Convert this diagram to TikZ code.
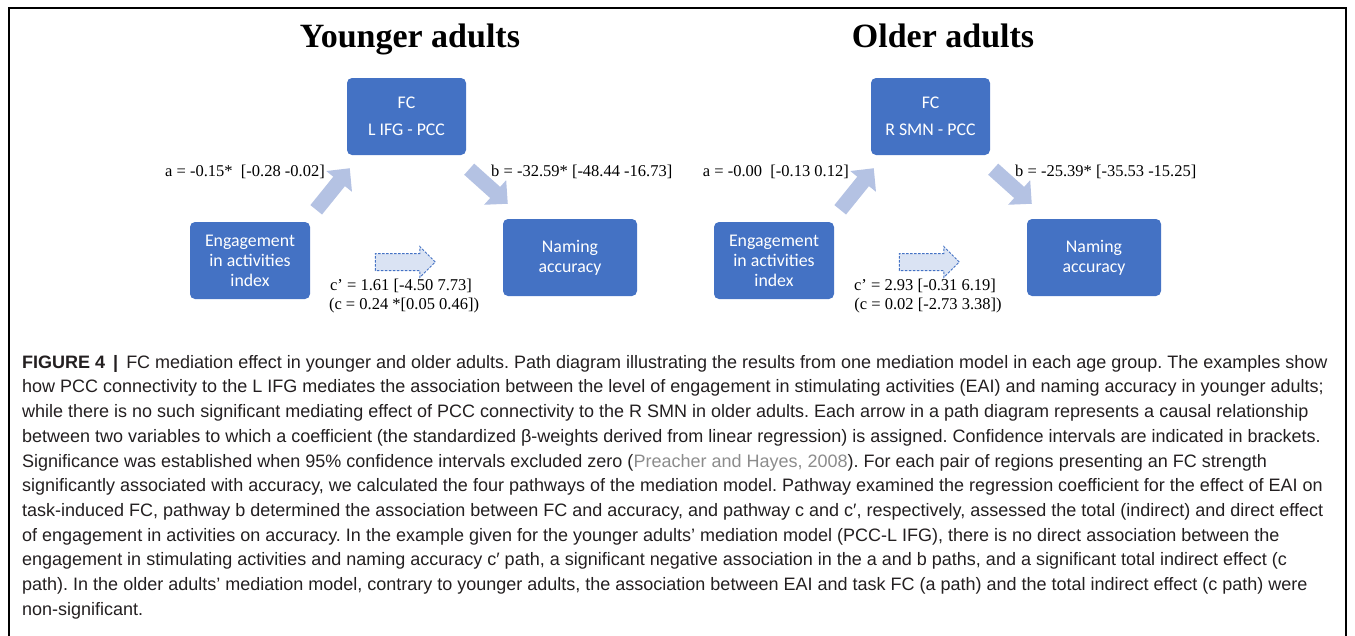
\documentclass[tikz,border=0pt]{standalone}
\usepackage{fontspec}
\usetikzlibrary{arrows.meta, shapes.arrows}
\newfontfamily\labFont{Liberation Serif}
\newfontfamily\boxFont{Carlito}
\newfontfamily\capFont{Liberation Sans}
\definecolor{boxBlue}{HTML}{4472C4}
\definecolor{pathBlue}{HTML}{B4C2E3}
\definecolor{dashFill}{HTML}{DAE3F3}
\definecolor{citeGray}{HTML}{8C8C8C}
\definecolor{capInk}{HTML}{231F20}

\begin{document}
\begin{tikzpicture}[x=1pt, y=-1pt,
    box/.style={fill=boxBlue, rounded corners=5pt, text=white, align=center,
        font=\boxFont\fontsize{17.8}{20}\selectfont, inner sep=0pt},
    blockArrow/.style={pathBlue, line width=15pt, -{Triangle[width=32pt, length=17pt]}},
    coef/.style={font=\labFont\fontsize{16.5}{18}\selectfont, inner sep=0pt}]
        \useasboundingbox (0,0) rectangle (1355,635);
        \draw[line width=1.4pt] (9,650) -- (9,8) -- (1346,8) -- (1346,650);

        \pgfmathsetmacro{\panelShift}{524}
        \foreach \p/\tx/\ttl/\reg/\alab/\blab/\cpl/\cl in {
        0/410/{Younger adults}/{L IFG - PCC}/{a = -0.15*\ \ [-0.28 -0.02]}/{b = -32.59* [-48.44 -16.73]}/{c’ = 1.61 [-4.50 7.73]}/{(c = 0.24 *[0.05 0.46])},
        1/419/{Older adults}/{R SMN - PCC}/{a = -0.00\ \ [-0.13 0.12]}/{b = -25.39* [-35.53 -15.25]}/{c’ = 2.93 [-0.31 6.19]}/{(c = 0.02 [-2.73 3.38])}} {
        \begin{scope}[xshift=\p*\panelShift]
        \node[font=\labFont\bfseries\fontsize{34}{36}\selectfont, anchor=base] (title\p) at (\tx,47) {\ttl};
        \node[box, minimum width=119pt, minimum height=77pt] (fc\p) at (406.5,116.5) {FC\\[7pt]\reg};
        \node[box, minimum width=120pt, minimum height=77pt] (eng\p) at (250,260.5) {Engagement\\in activities\\index};
        \node[box, minimum width=134pt, minimum height=77pt] (nam\p) at (570,257.5) {Naming\\accuracy};

        \draw[blockArrow] ([shift={(6pt,12pt)}]eng\p.north east) -- ([shift={(3pt,-13pt)}]fc\p.south west);
        \draw[blockArrow] ([shift={(3pt,-14pt)}]fc\p.south east) -- ([shift={(5pt,15pt)}]nam\p.north west);
        \node[coef, anchor=east] (a\p) at (325,172) {\alab};
        \node[coef, anchor=west] (b\p) at (491,172) {\blab};

        \node[single arrow, draw=boxBlue, dash pattern=on 2.5pt off 1.5pt, fill=dashFill, line width=1pt,
            minimum height=60pt, minimum width=30pt, inner sep=8pt, single arrow head extend=7pt] (dir\p) at (401,262) {};
        \node[coef] (cp\p) at (401,286) {\cpl};
        \node[coef] (c\p) at (404,306) {\cl};
        \end{scope}
        }

        \node[anchor=north west, align=left, inner sep=0pt, text=capInk,
            font=\capFont\fontsize{18}{24.7}\selectfont\frenchspacing] (caption) at (22,355) {%
        \textbf{FIGURE 4 \,|\,} FC mediation effect in younger and older adults. Path diagram illustrating the results from one mediation model in each age group. The examples show\\
        how PCC connectivity to the L IFG mediates the association between the level of engagement in stimulating activities (EAI) and naming accuracy in younger adults;\\
        while there is no such significant mediating effect of PCC connectivity to the R SMN in older adults. Each arrow in a path diagram represents a causal relationship\\
        between two variables to which a coefficient (the standardized β-weights derived from linear regression) is assigned. Confidence intervals are indicated in brackets.\\
        Significance was established when 95\% confidence intervals excluded zero ({\color{citeGray}Preacher and Hayes, 2008}). For each pair of regions presenting an FC strength\\
        significantly associated with accuracy, we calculated the four pathways of the mediation model. Pathway examined the regression coefficient for the effect of EAI on\\
        task-induced FC, pathway b determined the association between FC and accuracy, and pathway c and c′, respectively, assessed the total (indirect) and direct effect\\
        of engagement in activities on accuracy. In the example given for the younger adults’ mediation model (PCC-L IFG), there is no direct association between the\\
        engagement in stimulating activities and naming accuracy c′ path, a significant negative association in the a and b paths, and a significant total indirect effect (c\\
        path). In the older adults’ mediation model, contrary to younger adults, the association between EAI and task FC (a path) and the total indirect effect (c path) were\\
        non-significant.};
    \end{tikzpicture}
\end{document}
